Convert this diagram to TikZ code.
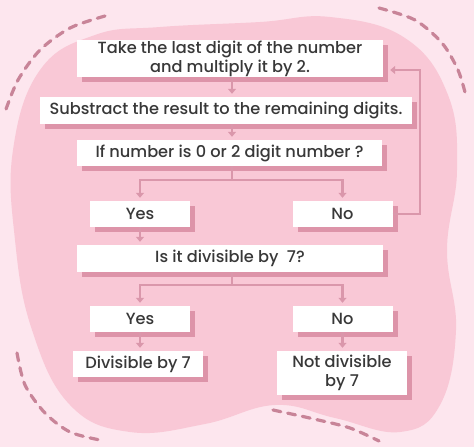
\documentclass[tikz,border=0pt]{standalone}
\usepackage{fontspec}
\setmainfont{Poppins Medium}
\usetikzlibrary{arrows.meta,shadows}

\definecolor{bgpink}{HTML}{FDE6EE}
\definecolor{blobpink}{HTML}{F9C8D6}
\definecolor{shadowpink}{HTML}{DD94A9}
\definecolor{arrowpink}{HTML}{DA97AB}
\definecolor{dashpink}{HTML}{C88498}
\definecolor{textgray}{HTML}{383838}

\begin{document}
\begin{tikzpicture}[x=1pt,y=-1pt,
    box/.style={fill=white,text=textgray,align=center,inner sep=0pt,
      font=\fontsize{16.2}{19}\selectfont,
      drop shadow={shadow xshift=5pt,shadow yshift=-5pt,fill=shadowpink,opacity=1}},
    ln/.style={draw=arrowpink,line width=2.5pt},
    arr/.style={ln,-{Triangle[width=8pt,length=5pt]},shorten >=3pt},
    dashcurve/.style={draw=dashpink,line width=3.2pt,line cap=round,dash pattern=on 8pt off 7pt}]

       % background and blob
       \useasboundingbox (0,0) rectangle (474,447);
       \fill[bgpink] (0,0) rectangle (474,447);
       \fill[blobpink] plot[smooth cycle,tension=0.7] coordinates {
         (160,27) (260,22) (330,17) (405,38) (448,95) (457,170) (447,250)
         (456,330) (440,405) (400,432) (335,418) (275,405) (205,424)
         (130,432) (70,405) (32,330) (15,240) (13,150) (40,70) (95,35)};

       \draw[dashcurve] plot[smooth] coordinates {(105,16) (70,28) (40,50) (18,80) (5,112)};
       \draw[dashcurve] plot[smooth] coordinates {(379,8) (415,20) (442,43) (458,70) (466,96)};
       \draw[dashcurve] plot[smooth] coordinates {(17,353) (25,385) (45,413) (70,432) (100,440)};
       \draw[dashcurve] plot[smooth] coordinates {(273,410) (314,419) (350,428) (379,441)};

       \coordinate (splitA) at (232,180);
       \coordinate (splitB) at (232,285);
       \coordinate (back) at (420,70);

       % boxes
       \node[box,minimum width=306pt,minimum height=37pt] (take) at (230,58.5)
         {Take the last digit of the number\\and multiply it by 2.};
       \node[box,minimum width=372pt,minimum height=27pt] (sub) at (226,110.5)
         {Substract the result to the remaining digits.};
       \node[box,minimum width=305pt,minimum height=26pt] (ifnum) at (229.5,153)
         {If number is 0 or 2 digit number ?};
       \node[box,minimum width=100pt,minimum height=26pt] (yesA) at (140,214) {Yes};
       \node[box,minimum width=100pt,minimum height=26pt] (noA) at (342.5,214) {No};
       \node[box,minimum width=306pt,minimum height=27pt] (divq) at (230,258.5)
         {Is it divisible by\ \ 7?};
       \node[box,minimum width=100pt,minimum height=26pt] (yesB) at (140,319) {Yes};
       \node[box,minimum width=100pt,minimum height=26pt] (noB) at (342.5,319) {No};
       \node[box,minimum width=130pt,minimum height=26pt] (divis) at (138,364) {Divisible by 7};
       \node[box,minimum width=130pt,minimum height=44pt] (notdiv) at (342,373)
         {Not divisible\\by 7};

       % connectors
       \draw[arr] (take.south -| splitA) -- (sub.north -| splitA);
       \draw[arr] (sub.south -| splitA) -- (ifnum.north -| splitA);
       \draw[ln] (ifnum.south -| splitA) -- (splitA);
       \draw[arr] (splitA) -| (yesA.north);
       \draw[arr] (splitA) -| (noA.north);
       \draw[arr] (yesA.south) -- (divq.north -| yesA.south);
       \draw[arr,shorten >=7pt] (noA.east) -| (back) -- (back -| take.east);
       \draw[ln] (divq.south -| splitB) -- (splitB);
       \draw[arr] (splitB) -| (yesB.north);
       \draw[arr] (splitB) -| (noB.north);
       \draw[arr] (yesB.south) -- (divis.north -| yesB.south);
       \draw[arr] (noB.south) -- (notdiv.north -| noB.south);
     \end{tikzpicture}
\end{document}
